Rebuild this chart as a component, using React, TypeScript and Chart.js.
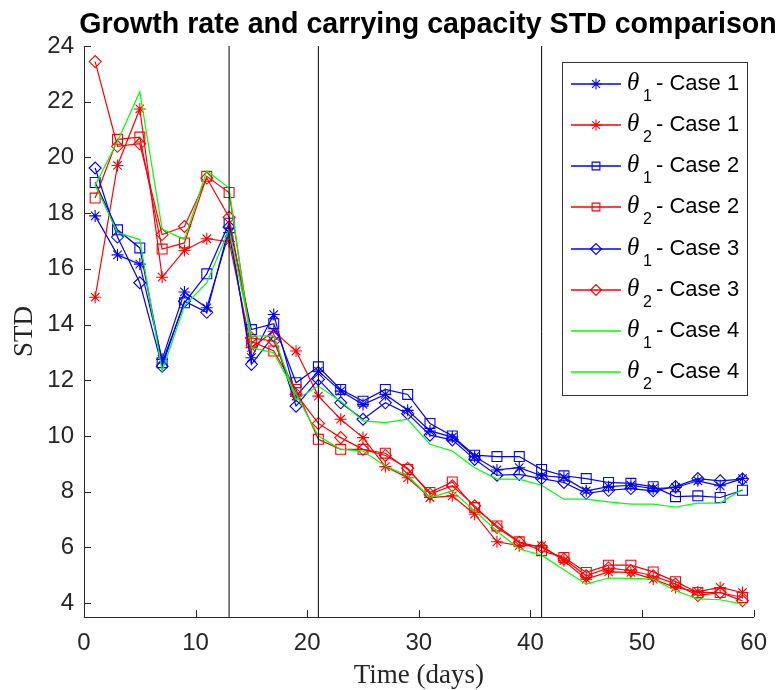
import React, { useEffect, useRef } from 'react';
import { Chart, registerables } from 'chart.js';
import { drawPoint } from 'chart.js/helpers';

Chart.register(...registerables);

// ---------- data ----------
const days = [1, 3, 5, 7, 9, 11, 13, 15, 17, 19, 21, 23, 25, 27, 29, 31, 33, 35, 37, 39, 41, 43, 45, 47, 49, 51, 53, 55, 57, 59];

const theta1Case1 = [17.9, 16.5, 16.17, 12.75, 15.17, 14.6, 17.3, 12.81, 14.36, 11.43, 12.33, 11.61, 11.13, 11.49, 10.92, 10.18, 9.96, 9.26, 8.78, 8.86, 8.57, 8.51, 8.03, 8.18, 8.23, 8.11, 8.15, 8.39, 8.21, 8.47];
const theta2Case1 = [14.98, 19.71, 21.74, 15.7, 16.66, 17.08, 16.98, 13.17, 13.76, 13.05, 11.43, 10.6, 9.94, 8.9, 8.5, 7.79, 7.85, 7.19, 6.2, 6.06, 6.06, 5.52, 4.86, 5.12, 5.1, 4.86, 4.56, 4.41, 4.56, 4.38];
const theta1Case2 = [19.1, 17.4, 16.75, 12.63, 14.78, 15.82, 17.64, 13.82, 14.03, 11.91, 12.48, 11.67, 11.25, 11.67, 11.49, 10.45, 10.0, 9.31, 9.26, 9.26, 8.8, 8.57, 8.47, 8.33, 8.3, 8.18, 7.82, 7.85, 7.79, 8.05];
const theta2Case2 = [18.54, 20.65, 20.73, 16.71, 16.93, 19.32, 18.74, 13.4, 13.05, 11.67, 9.88, 9.52, 9.52, 9.38, 8.8, 7.97, 8.35, 7.43, 6.77, 6.2, 5.88, 5.64, 5.1, 5.36, 5.36, 5.12, 4.77, 4.38, 4.38, 4.2];
const theta1Case3 = [19.62, 17.14, 15.5, 12.5, 14.84, 14.44, 17.5, 12.57, 13.6, 11.07, 12.03, 11.19, 10.6, 11.19, 10.8, 10.03, 9.86, 9.16, 8.59, 8.62, 8.47, 8.33, 7.94, 8.05, 8.11, 8.03, 8.18, 8.47, 8.39, 8.45];
const theta2Case3 = [23.44, 20.4, 20.49, 17.23, 17.52, 19.26, 17.85, 13.52, 13.4, 11.5, 10.45, 9.94, 9.52, 9.3, 8.84, 7.91, 8.21, 7.49, 6.71, 6.18, 6.0, 5.58, 4.98, 5.26, 5.16, 4.98, 4.68, 4.27, 4.38, 4.08];
const theta1Case4 = [19.0, 17.3, 17.05, 12.33, 14.66, 15.5, 17.4, 13.58, 13.6, 11.31, 11.79, 11.25, 10.54, 10.48, 10.6, 9.7, 9.46, 8.86, 8.45, 8.45, 8.23, 7.73, 7.73, 7.63, 7.55, 7.55, 7.45, 7.59, 7.59, 8.09];
const theta2Case4 = [19.0, 20.57, 22.36, 17.43, 17.05, 19.52, 18.9, 13.17, 12.99, 11.5, 10.0, 9.52, 9.46, 8.92, 8.57, 7.79, 8.03, 7.31, 6.59, 5.94, 5.72, 5.2, 4.68, 4.9, 4.89, 4.86, 4.44, 4.15, 4.12, 3.96];

const seriesNames = ['Case 1', 'Case 1', 'Case 2', 'Case 2', 'Case 3', 'Case 3', 'Case 4', 'Case 4'];
const seriesThetaIdx = ['1', '2', '1', '2', '1', '2', '1', '2'];

const markerLines = [13, 21, 41];
const xTicks = [0, 10, 20, 30, 40, 50, 60];
const yTicks = [4, 6, 8, 10, 12, 14, 16, 18, 20, 22, 24];
const xRange = [0, 60];
const yRange = [3.5, 24];

const titleText = 'Growth rate and carrying capacity STD comparison';
const xLabel = 'Time (days)';
const yLabel = 'STD';

// ---------- styles ----------
const BLUE = '#0000ff';
const RED = '#ff0000';
const GREEN = '#00ff00';
const AXIS = '#262626';

const seriesStyle = [
  { color: BLUE, marker: 'star', radius: 6 },
  { color: RED, marker: 'star', radius: 6 },
  { color: BLUE, marker: 'rect', radius: 7 },
  { color: RED, marker: 'rect', radius: 7 },
  { color: BLUE, marker: 'rectRot', radius: 6 },
  { color: RED, marker: 'rectRot', radius: 6 },
  { color: GREEN, marker: false, radius: 0 },
  { color: GREEN, marker: false, radius: 0 },
];

export default function App() {
  const ref = useRef<HTMLCanvasElement>(null);

  useEffect(() => {
    document.body.style.margin = '0';
    const canvas = ref.current;
    if (!canvas) return;

    const values = [theta1Case1, theta2Case1, theta1Case2, theta2Case2, theta1Case3, theta2Case3, theta1Case4, theta2Case4];

    const datasets: any[] = values.map((vals, i) => ({
      label: '\u03b8' + seriesThetaIdx[i] + ' - ' + seriesNames[i],
      data: days.map((d, j) => ({ x: d, y: vals[j] })),
      borderColor: seriesStyle[i].color,
      backgroundColor: 'rgba(0,0,0,0)',
      borderWidth: 1.2,
      pointStyle: seriesStyle[i].marker,
      pointRadius: seriesStyle[i].radius,
      pointHoverRadius: seriesStyle[i].radius,
      pointBorderColor: seriesStyle[i].color,
      pointBackgroundColor: 'rgba(0,0,0,0)',
      pointBorderWidth: 1.1,
      fill: false,
      tension: 0,
      order: 20 - i,
    }));

    markerLines.forEach((xv) => {
      datasets.push({
        label: 'line' + xv,
        data: [{ x: xv, y: yRange[0] }, { x: xv, y: yRange[1] }],
        borderColor: '#000000',
        borderWidth: 1,
        pointRadius: 0,
        fill: false,
        order: 0,
      });
    });

    const decor = {
      id: 'decor',
      afterDraw(chart: any) {
        const c = chart.ctx;
        const area = chart.chartArea;
        const xs = chart.scales.x;
        const ys = chart.scales.y;
        c.save();
        // inward ticks
        c.strokeStyle = AXIS;
        c.lineWidth = 1;
        c.beginPath();
        yTicks.forEach((v) => {
          const py = Math.round(ys.getPixelForValue(v)) + 0.5;
          c.moveTo(area.left, py);
          c.lineTo(area.left + 7, py);
        });
        xTicks.forEach((v) => {
          const px = Math.round(xs.getPixelForValue(v)) + 0.5;
          c.moveTo(px, area.bottom);
          c.lineTo(px, area.bottom - 7);
        });
        c.stroke();

        // title
        c.fillStyle = '#000000';
        c.font = 'bold 28.6px "Liberation Sans", Arial, sans-serif';
        c.textAlign = 'center';
        c.textBaseline = 'alphabetic';
        c.fillText(titleText, 428, 33);

        // axis labels
        c.fillStyle = AXIS;
        c.font = '27px "Liberation Serif", "Times New Roman", serif';
        c.textBaseline = 'middle';
        c.fillText(xLabel, (area.left + area.right) / 2, 676);
        c.save();
        c.translate(25, (area.top + area.bottom) / 2);
        c.rotate(-Math.PI / 2);
        c.fillText(yLabel, 0, 0);
        c.restore();

        // legend
        const bx = 562, by = 62, bw = 185, bh = 333;
        c.fillStyle = '#ffffff';
        c.fillRect(bx, by, bw, bh);
        c.strokeStyle = '#333333';
        c.lineWidth = 1;
        c.strokeRect(bx + 0.5, by + 0.5, bw, bh);
        const row0 = 84.3;
        const step = 41.05;
        for (let i = 0; i < seriesStyle.length; i++) {
          const ry = row0 + i * step;
          const ly = Math.round(ry);
          const st = seriesStyle[i];
          c.strokeStyle = st.color;
          c.lineWidth = 1.4;
          c.beginPath();
          c.moveTo(571, ly);
          c.lineTo(621, ly);
          c.stroke();
          if (st.marker) {
            c.fillStyle = 'rgba(0,0,0,0)';
            c.strokeStyle = st.color;
            c.lineWidth = 1.1;
            drawPoint(c, { pointStyle: st.marker, radius: 5.5, borderWidth: 1.1, rotation: 0 } as any, 596, ly);
          }
          c.fillStyle = '#000000';
          c.textAlign = 'left';
          c.textBaseline = 'alphabetic';
          c.font = 'italic 25px "Liberation Serif", "Times New Roman", serif';
          c.fillText('\u03b8', 627, ry + 6);
          c.font = '16px "Liberation Sans", Arial, sans-serif';
          c.fillText(seriesThetaIdx[i], 643, ry + 17);
          c.font = '22px "Liberation Sans", Arial, sans-serif';
          c.fillText('- ' + seriesNames[i], 656, ry + 6);
        }
        c.restore();
      },
    };

    const tickFont = { family: '"Liberation Sans", Arial, sans-serif', size: 24 };

    const chart = new Chart(canvas, {
      type: 'line',
      data: { datasets },
      options: {
        responsive: false,
        animation: false,
        devicePixelRatio: 1,
        layout: { padding: { top: 46, right: 17, left: 0, bottom: 0 } },
        plugins: {
          legend: { display: false },
          title: { display: false },
          tooltip: { enabled: false },
        },
        events: [],
        scales: {
          x: {
            type: 'linear',
            min: xRange[0],
            max: xRange[1],
            afterBuildTicks: (s: any) => { s.ticks = xTicks.map((v) => ({ value: v })); },
            afterFit: (s: any) => { s.height = 73; },
            grid: { display: false, drawTicks: false },
            border: { display: true, color: AXIS, width: 1 },
            ticks: { font: tickFont, color: AXIS, padding: 12, maxRotation: 0, autoSkip: false },
          },
          y: {
            type: 'linear',
            min: yRange[0],
            max: yRange[1],
            afterBuildTicks: (s: any) => { s.ticks = yTicks.map((v) => ({ value: v })); },
            afterFit: (s: any) => { s.width = 84; },
            grid: { display: false, drawTicks: false },
            border: { display: true, color: AXIS, width: 1 },
            ticks: { font: tickFont, color: AXIS, padding: 10, autoSkip: false },
          },
        },
      } as any,
      plugins: [decor],
    });

    return () => chart.destroy();
  }, []);

  return (
    <div style={{ width: 779, height: 690, position: 'relative', background: '#ffffff' }}>
      <canvas ref={ref} width={779} height={690} style={{ display: 'block' }} />
    </div>
  );
}
